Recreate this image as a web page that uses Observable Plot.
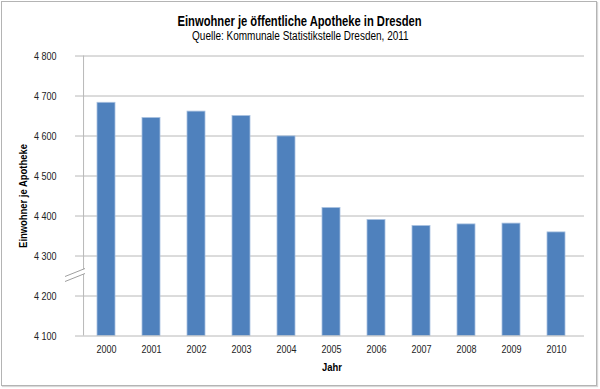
<!DOCTYPE html>
<html>
<head>
<meta charset="utf-8">
<script src="https://cdn.jsdelivr.net/npm/d3@7"></script>
<script src="https://cdn.jsdelivr.net/npm/@observablehq/plot@0.6"></script>
<style>
  html, body { margin: 0; padding: 0; background: #fff; }
  #wrap { position: relative; width: 600px; height: 389px; overflow: hidden; }
  #frame { position: absolute; left: 1px; top: 1px; width: 594px; height: 383px; border: 1px solid #b4b4b4; box-shadow: 1px 1px 1px #d8d8d8; pointer-events: none; }
  #head { height: 45px; text-align: center; font-family: "Liberation Sans", Arial, sans-serif; color: #000; }
  #title { font-weight: bold; font-size: 14px; padding-top: 13px; line-height: 16px; }
  #subtitle { font-size: 12.5px; line-height: 15px; }
  #head span { display: inline-block; transform: scaleX(0.8); transform-origin: center; white-space: nowrap; }
  svg { display: block; }
</style>
</head>
<body>
<div id="wrap">
  <div id="head">
    <div id="title"><span>Einwohner je öffentliche Apotheke in Dresden</span></div>
    <div id="subtitle"><span>Quelle: Kommunale Statistikstelle Dresden, 2011</span></div>
  </div>
  <div id="chart"></div>
  <div id="frame"></div>
</div>
<script>
const years = ["2000","2001","2002","2003","2004","2005","2006","2007","2008","2009","2010"];
const values = [4683, 4645, 4661, 4650, 4599, 4420, 4390, 4375, 4379, 4381, 4359];
const yTicks = [4100, 4200, 4300, 4400, 4500, 4600, 4700, 4800];
const yLabel = "Einwohner je Apotheke";
const xLabel = "Jahr";

const data = years.map((y, i) => ({year: y, value: values[i]}));
const fmt = d => d3.format(",")(d).replace(",", "\u00a0");
const font = "'Liberation Sans', Arial, sans-serif";

const chart = Plot.plot({
  width: 600,
  height: 344,
  marginLeft: 79,
  marginRight: 16,
  marginTop: 10.5,
  marginBottom: 53.5,
  style: {fontFamily: font, fontSize: "11px", color: "#222", background: "transparent"},
  x: {domain: years, paddingInner: 0.595, paddingOuter: 0.2975, label: null},
  y: {domain: [4100, 4800], label: null},
  marks: [
    Plot.ruleY(yTicks.slice(1), {stroke: "#b8b8b8", strokeWidth: 1}),
    Plot.barY(data, {x: "year", y1: 4100, y2: "value", fill: "#4f81bd", stroke: "#a9c1e0", strokeWidth: 0.8}),
    Plot.ruleY([4100], {stroke: "#b8b8b8", strokeWidth: 1}),
    Plot.ruleX([years[0]], {y1: 4100, y2: 4800, dx: -22.95, stroke: "#b8b8b8", strokeWidth: 1}),
    Plot.axisY(yTicks, {tickFormat: fmt, tickSize: 4, tickPadding: 19, stroke: "#b8b8b8", label: null, fill: "#222"}),
    Plot.axisX({tickSize: 0, tickPadding: 9, label: null, fill: "#222"}),
    Plot.text([yLabel], {frameAnchor: "left", rotate: -90, dx: -56, textAnchor: "middle", lineAnchor: "middle", fontWeight: "bold", fontSize: 11.5, fill: "#000"}),
    Plot.text([xLabel], {frameAnchor: "bottom", dy: 31, textAnchor: "middle", lineAnchor: "middle", fontWeight: "bold", fontSize: 11.5, fill: "#000"})
  ]
});
document.getElementById("chart").appendChild(chart);

// condense text horizontally (narrow typeface look), keeping each anchor point fixed
d3.select(chart).selectAll("text").each(function() {
  const x = parseFloat(this.getAttribute("x")) || 0;
  const t = this.getAttribute("transform") || "";
  this.setAttribute("transform", `${t} translate(${x},0) scale(0.82,1) translate(${-x},0)`.trim());
});

// axis break symbol on the y axis
const ys = chart.scale("y");
const yb = ys.apply(4250);
const svg = d3.select(chart);
const g = svg.append("g").attr("stroke", "#a0a0a0").attr("stroke-width", 1);
const ax = 79;
g.append("polygon")
  .attr("points", `${ax-14},${yb+6} ${ax+6},${yb-2} ${ax+6},${yb-7} ${ax-14},${yb+1}`)
  .attr("fill", "#fff").attr("stroke", "none");
g.append("line").attr("x1", ax-14).attr("y1", yb+1).attr("x2", ax+6).attr("y2", yb-7);
g.append("line").attr("x1", ax-14).attr("y1", yb+6).attr("x2", ax+6).attr("y2", yb-2);
</script>
</body>
</html>
